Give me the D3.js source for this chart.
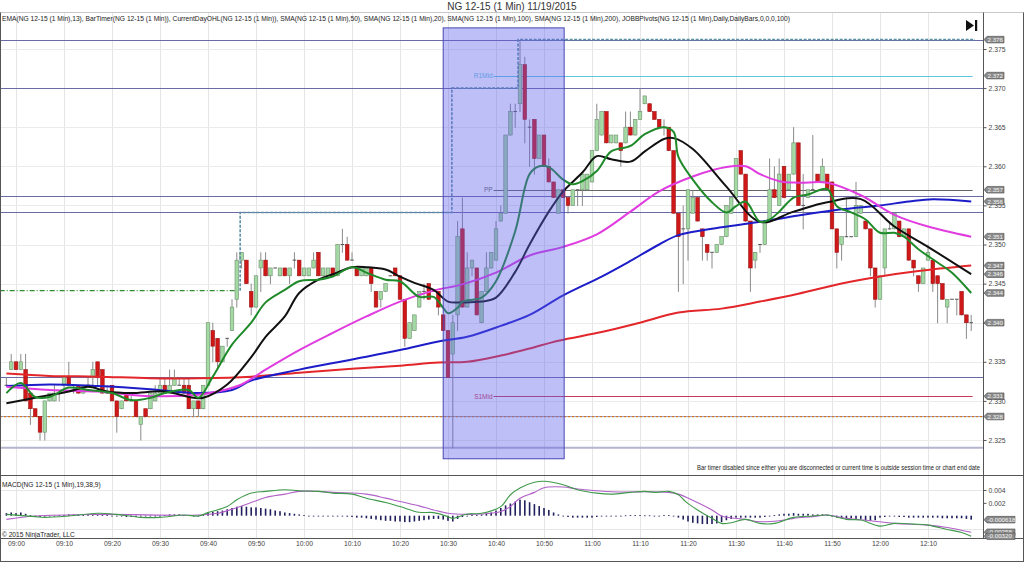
<!DOCTYPE html>
<html><head><meta charset="utf-8">
<script src="https://cdn.jsdelivr.net/npm/d3@7"></script>
<style>
html,body{margin:0;padding:0;background:#fff;}
svg{display:block;font-family:"Liberation Sans",Arial,sans-serif;}
</style></head><body>
<svg id="c" width="1024" height="563"></svg>
<script>
// ---------------- DATA ----------------
const chartTitle = "NG 12-15 (1 Min)  11/19/2015";
const indicatorLine = "EMA(NG 12-15 (1 Min),13), BarTimer(NG 12-15 (1 Min)), CurrentDayOHL(NG 12-15 (1 Min)), SMA(NG 12-15 (1 Min),50), SMA(NG 12-15 (1 Min),20), SMA(NG 12-15 (1 Min),100), SMA(NG 12-15 (1 Min),200), JOBBPivots(NG 12-15 (1 Min),Daily,DailyBars,0,0,0,100)";
const macdTitle = "MACD(NG 12-15 (1 Min),19,38,9)";
const timerNote = "Bar timer disabled since either you are disconnected or current time is outside session time or chart end date";
const copyright = "\u00A9 2015 NinjaTrader, LLC";

// first bar is 08:58 (bar index relative to 09:00)
const firstBar = -2;
const opens = [
2.332,2.334,2.335,2.334,2.334,2.331,2.329,2.328,2.326,2.330,
2.330,2.331,2.332,2.333,2.332,2.332,2.331,2.332,2.333,2.335,
2.334,2.331,2.332,2.330,2.329,2.331,2.330,2.330,2.327,2.329,
2.329,2.330,2.331,2.332,2.331,2.332,2.332,2.332,2.332,2.329,
2.330,2.329,2.332,2.339,2.338,2.335,2.338,2.339,2.343,2.348,
2.348,2.344,2.342,2.347,2.348,2.346,2.347,2.346,2.347,2.346,
2.348,2.348,2.346,2.346,2.347,2.349,2.346,2.346,2.347,2.346,
2.350,2.350,2.348,2.347,2.346,2.346,2.347,2.344,2.343,2.344,
2.346,2.347,2.346,2.343,2.338,2.339,2.342,2.344,2.345,2.344,
2.344,2.341,2.339,2.336,2.341,2.352,2.342,2.347,2.347,2.340,
2.344,2.347,2.348,2.353,2.354,2.364,2.367,2.368,2.373,2.365,
2.366,2.361,2.364,2.360,2.358,2.354,2.357,2.356,2.355,2.357,
2.357,2.357,2.358,2.362,2.364,2.367,2.363,2.363,2.363,2.363,
2.365,2.364,2.366,2.368,2.368,2.367,2.366,2.365,2.365,2.362,
2.354,2.352,2.352,2.354,2.356,2.352,2.350,2.349,2.349,2.350,
2.351,2.354,2.356,2.362,2.359,2.353,2.348,2.350,2.350,2.353,
2.357,2.355,2.360,2.357,2.359,2.363,2.355,2.356,2.357,2.359,
2.358,2.359,2.358,2.352,2.350,2.351,2.351,2.351,2.354,2.353,
2.352,2.347,2.343,2.347,2.352,2.352,2.353,2.351,2.352,2.348,
2.346,2.345,2.348,2.348,2.346,2.345,2.342,2.343,2.343,2.344,
2.341,2.340];
const highs = [
2.333,2.336,2.335,2.336,2.336,2.331,2.329,2.328,2.330,2.331,
2.332,2.331,2.333,2.335,2.332,2.332,2.332,2.333,2.335,2.335,
2.334,2.332,2.332,2.330,2.330,2.331,2.331,2.330,2.328,2.329,
2.331,2.332,2.333,2.333,2.334,2.334,2.333,2.333,2.333,2.330,
2.330,2.332,2.340,2.340,2.338,2.337,2.338,2.343,2.349,2.349,
2.348,2.345,2.346,2.349,2.349,2.347,2.347,2.347,2.347,2.347,
2.349,2.348,2.347,2.347,2.349,2.349,2.347,2.347,2.347,2.350,
2.352,2.351,2.349,2.347,2.347,2.347,2.347,2.344,2.344,2.345,
2.346,2.347,2.346,2.343,2.340,2.341,2.344,2.345,2.345,2.344,
2.344,2.341,2.339,2.341,2.353,2.356,2.349,2.348,2.347,2.344,
2.349,2.349,2.353,2.355,2.364,2.368,2.368,2.376,2.374,2.366,
2.366,2.364,2.364,2.361,2.358,2.357,2.357,2.356,2.357,2.357,
2.359,2.359,2.362,2.368,2.367,2.367,2.364,2.364,2.363,2.367,
2.367,2.366,2.370,2.369,2.368,2.367,2.366,2.366,2.365,2.362,
2.354,2.355,2.357,2.357,2.356,2.352,2.350,2.349,2.350,2.351,
2.355,2.356,2.361,2.362,2.359,2.353,2.349,2.350,2.353,2.361,
2.360,2.361,2.360,2.359,2.365,2.363,2.359,2.357,2.364,2.359,
2.361,2.359,2.358,2.352,2.351,2.356,2.351,2.358,2.355,2.353,
2.352,2.347,2.346,2.352,2.353,2.354,2.353,2.352,2.352,2.348,
2.346,2.347,2.350,2.348,2.346,2.345,2.343,2.343,2.343,2.344,
2.341,2.341];
const lows = [
2.332,2.334,2.334,2.334,2.330,2.327,2.328,2.325,2.325,2.330,
2.330,2.330,2.331,2.332,2.331,2.331,2.331,2.332,2.332,2.332,
2.331,2.331,2.330,2.326,2.329,2.330,2.330,2.328,2.325,2.328,
2.329,2.330,2.331,2.331,2.331,2.332,2.332,2.331,2.329,2.328,
2.328,2.329,2.332,2.335,2.334,2.335,2.337,2.339,2.342,2.347,
2.345,2.341,2.342,2.344,2.346,2.345,2.347,2.346,2.346,2.345,
2.347,2.346,2.346,2.346,2.347,2.346,2.346,2.346,2.346,2.346,
2.349,2.348,2.348,2.346,2.346,2.346,2.344,2.342,2.342,2.344,
2.346,2.346,2.343,2.337,2.338,2.339,2.342,2.343,2.343,2.344,
2.341,2.339,2.333,2.324,2.339,2.342,2.342,2.346,2.341,2.340,
2.344,2.347,2.348,2.353,2.354,2.364,2.365,2.367,2.363,2.360,
2.359,2.361,2.360,2.358,2.356,2.354,2.356,2.354,2.355,2.355,
2.355,2.357,2.358,2.362,2.364,2.363,2.363,2.363,2.360,2.363,
2.364,2.364,2.366,2.368,2.367,2.366,2.365,2.364,2.362,2.354,
2.344,2.345,2.348,2.354,2.353,2.348,2.348,2.347,2.349,2.350,
2.351,2.354,2.356,2.359,2.353,2.344,2.347,2.349,2.350,2.353,
2.356,2.355,2.356,2.357,2.359,2.355,2.352,2.356,2.357,2.358,
2.358,2.357,2.352,2.347,2.348,2.351,2.351,2.351,2.354,2.352,
2.346,2.342,2.343,2.346,2.352,2.352,2.351,2.351,2.348,2.346,
2.344,2.345,2.348,2.344,2.340,2.343,2.340,2.343,2.341,2.341,
2.338,2.339];
const closes = [
2.332,2.335,2.334,2.335,2.330,2.329,2.328,2.326,2.330,2.331,
2.331,2.331,2.333,2.332,2.332,2.331,2.332,2.332,2.334,2.333,
2.331,2.331,2.330,2.328,2.330,2.330,2.330,2.328,2.328,2.328,
2.331,2.331,2.332,2.331,2.332,2.333,2.332,2.331,2.329,2.330,
2.329,2.332,2.340,2.337,2.335,2.337,2.338,2.342,2.348,2.349,
2.345,2.342,2.346,2.348,2.346,2.347,2.347,2.347,2.346,2.347,
2.348,2.346,2.347,2.347,2.348,2.346,2.347,2.347,2.346,2.350,
2.350,2.348,2.348,2.346,2.347,2.347,2.345,2.342,2.344,2.345,
2.346,2.346,2.343,2.338,2.340,2.341,2.344,2.344,2.343,2.344,
2.342,2.339,2.333,2.340,2.351,2.342,2.347,2.348,2.341,2.344,
2.347,2.349,2.352,2.354,2.364,2.367,2.367,2.373,2.366,2.365,
2.361,2.364,2.360,2.358,2.356,2.357,2.356,2.355,2.357,2.357,
2.359,2.359,2.362,2.366,2.367,2.363,2.364,2.364,2.362,2.365,
2.364,2.366,2.367,2.369,2.367,2.366,2.365,2.365,2.362,2.354,
2.351,2.352,2.357,2.356,2.353,2.351,2.349,2.349,2.350,2.351,
2.355,2.356,2.361,2.359,2.353,2.347,2.349,2.350,2.353,2.357,
2.356,2.359,2.356,2.359,2.363,2.355,2.355,2.357,2.357,2.358,
2.360,2.357,2.352,2.349,2.351,2.351,2.351,2.355,2.355,2.352,
2.347,2.343,2.346,2.352,2.352,2.354,2.351,2.352,2.348,2.347,
2.345,2.347,2.349,2.345,2.345,2.343,2.343,2.343,2.343,2.341,
2.340,2.340];

// moving averages: [bar index, price]
const ema13 = [[-2,2.3310],[1,2.3323],[4,2.3305],[7,2.3305],[11,2.3317],[15,2.3314],[20,2.3310],[24,2.3301],[28,2.3304],[31,2.3310],[36,2.3314],[38,2.3304],[41,2.3331],[45,2.3372],[49,2.3400],[52,2.3426],[56,2.3442],[59,2.3453],[63,2.3455],[66,2.3459],[70,2.3471],[73,2.3464],[77,2.3455],[80,2.3453],[84,2.3433],[87,2.3433],[89,2.3419],[90,2.3412],[92,2.3419],[93,2.3427],[97,2.3432],[100,2.3453],[104,2.3517],[107,2.3590],[109,2.3600],[111,2.3599],[114,2.3583],[116,2.3577],[118,2.3581],[121,2.3594],[124,2.3619],[128,2.3626],[131,2.3641],[135,2.3650],[137,2.3644],[138,2.3612],[141,2.3583],[145,2.3554],[148,2.3541],[150,2.3549],[152,2.3555],[155,2.3529],[157,2.3532],[159,2.3542],[162,2.3560],[165,2.3564],[169,2.3571],[171,2.3549],[174,2.3541],[177,2.3532],[180,2.3515],[183,2.3515],[185,2.3510],[188,2.3494],[192,2.3477],[195,2.3464],[199,2.3438]];
const sma20 = [[-2,2.3297],[4,2.3304],[11,2.3312],[15,2.3318],[19,2.3312],[24,2.3310],[31,2.3312],[37,2.3304],[39,2.3304],[44,2.3321],[49,2.3356],[52,2.3382],[56,2.3408],[59,2.3438],[63,2.3455],[66,2.3462],[70,2.3471],[73,2.3471],[77,2.3468],[80,2.3459],[83,2.3451],[87,2.3442],[90,2.3427],[93,2.3426],[97,2.3427],[100,2.3432],[104,2.3465],[107,2.3500],[111,2.3542],[114,2.3568],[118,2.3592],[121,2.3613],[124,2.3609],[128,2.3606],[131,2.3619],[135,2.3635],[137,2.3636],[141,2.3622],[148,2.3574],[155,2.3529],[162,2.3542],[169,2.3554],[176,2.3558],[183,2.3523],[190,2.3497],[199,2.3462]];
const sma50 = [[-2,2.3318],[7,2.3314],[17,2.3312],[28,2.3306],[38,2.3308],[42,2.3312],[47,2.3321],[52,2.3340],[59,2.3365],[66,2.3387],[73,2.3408],[80,2.3427],[87,2.3441],[93,2.3449],[100,2.3464],[107,2.3486],[114,2.3497],[121,2.3513],[128,2.3542],[134,2.3568],[141,2.3587],[148,2.3599],[152,2.3600],[155,2.3590],[159,2.3581],[163,2.3579],[169,2.3579],[176,2.3563],[183,2.3538],[190,2.3523],[199,2.3510]];
const sma100 = [[-2,2.3319],[7,2.3321],[17,2.3319],[28,2.3315],[38,2.3310],[45,2.3314],[49,2.3326],[59,2.3340],[70,2.3353],[80,2.3365],[88,2.3376],[94,2.3382],[101,2.3396],[107,2.3410],[114,2.3435],[122,2.3459],[128,2.3479],[134,2.3500],[138,2.3512],[147,2.3522],[155,2.3529],[163,2.3537],[172,2.3545],[180,2.3550],[186,2.3555],[191,2.3558],[199,2.3555]];
const sma200 = [[-2,2.3335],[7,2.3332],[17,2.3331],[28,2.3329],[38,2.3329],[49,2.3331],[59,2.3336],[70,2.3341],[80,2.3345],[88,2.3349],[94,2.3350],[101,2.3358],[107,2.3367],[113,2.3377],[122,2.3388],[130,2.3400],[138,2.3413],[147,2.3418],[155,2.3427],[163,2.3437],[172,2.3450],[180,2.3459],[188,2.3466],[199,2.3473]];

// price levels
const slateLevels = [2.3762, 2.3700, 2.3562, 2.3541, 2.3331];
const dottedLevel = 2.3280;
const lowLevel = 2.3240;
const openLevel = 2.3441;
const openLevelBars = [-3.4, 46.4];
const dayHighSteps = [[46.7,2.3441],[46.7,2.3541],[90.8,2.3541],[90.8,2.3700],[104.6,2.3700],[104.6,2.3762],[199.8,2.3762]];
const pivotNames = ["R1Mid", "PP", "S1Mid"];
const pivotValues = [2.3716, 2.3570, 2.3306];
const pivotStartBar = 99.5;
const highlightBars = [89.0, 114.2];
const highlightPrices = [2.3777, 2.3226];

// axis ticks
const timeLabels = ["09:00","09:10","09:20","09:30","09:40","09:50","10:00","10:10","10:20","10:30","10:40","10:50","11:00","11:10","11:20","11:30","11:40","11:50","12:00","12:10"];
const priceTicks = [2.325,2.330,2.335,2.340,2.345,2.350,2.355,2.360,2.365,2.370,2.375];
const macdTicks = [0.004, 0.002];

// MACD (values in thousandths)
const macdLine = [[-2,0.2],[4,-0.15],[6,-0.26],[11,-0.05],[17,0.37],[21,0.2],[26,-0.26],[30,-0.26],[35,0.1],[38,-0.05],[40,0.48],[44,1.42],[46,2.47],[49,3.52],[52,3.78],[56,4.05],[59,3.89],[63,3.78],[66,3.52],[70,3.36],[73,2.73],[77,2.05],[80,1.42],[84,0.53],[87,0.48],[90,-0.15],[91,-0.41],[94,0.27],[97,0.37],[101,1.42],[103,3.26],[105,4.31],[108,5.2],[110,5.36],[114,4.83],[117,4.05],[121,3.52],[124,3.36],[128,3.63],[131,3.78],[133,3.63],[136,3.78],[138,3.26],[139.5,2.2],[142,0.9],[145,-0.41],[147,-1.2],[149,-1.1],[152,-0.57],[155,-1.2],[158,-1.2],[162,-0.26],[166,-0.05],[169,0.1],[173,-0.57],[176,-0.68],[180,-1.62],[183,-1.2],[187,-1.31],[190,-1.46],[194,-2.15],[197,-2.6],[199,-3.2]];
const macdAvg = [[-2,-0.57],[4,-0.05],[17,0.2],[38,0.1],[42,0.37],[45,1.0],[49,2.05],[52,2.84],[56,3.36],[59,3.78],[63,3.78],[66,3.63],[73,3.36],[77,2.73],[80,2.21],[84,1.53],[87,0.9],[90,0.37],[94,0.2],[97,0.27],[101,0.64],[103,1.42],[105,2.73],[108,3.63],[110,4.36],[114,4.47],[117,4.15],[121,3.89],[124,3.73],[128,3.68],[131,3.73],[136,3.63],[138,3.36],[141.5,2.21],[145,0.9],[147,-0.05],[152,-0.57],[155,-0.94],[159,-0.78],[162,-0.41],[166,-0.15],[169,0.1],[173,-0.41],[178,-0.78],[183,-1.2],[190,-1.46],[194,-1.83],[199,-2.58]];
const macdDiff = [
0.4,0.5,0.4,0.5,0.3,0.1,-0.2,-0.2,-0.1,-0.1,
0,0.1,0.1,0.2,0.2,0.1,0.1,0.2,0.2,0.2,
0.1,0.1,0,-0.1,-0.1,-0.2,-0.2,-0.2,-0.1,-0.1,
-0.1,0,0,0.1,0.2,0.2,0.2,0.1,0.1,-0.1,
-0.1,0.1,0.5,0.6,0.7,0.8,1.0,1.2,1.4,1.5,
1.4,1.3,1.3,1.2,1.1,1.0,0.8,0.7,0.5,0.4,
0.3,0.2,0.1,0,0,-0.05,-0.1,-0.1,-0.1,-0.1,
-0.1,-0.15,-0.2,-0.3,-0.3,-0.4,-0.5,-0.6,-0.7,-0.8,
-0.8,-0.9,-0.9,-1.0,-1.0,-0.9,-0.8,-0.7,-0.6,-0.5,
-0.5,-0.6,-0.8,-0.9,-0.5,-0.2,0,0.1,0.1,0.2,
0.3,0.5,0.8,1.2,1.6,1.9,2.2,2.5,2.4,2.1,
1.8,1.5,1.2,0.9,0.5,0.2,-0.1,-0.2,-0.3,-0.3,
-0.3,-0.3,-0.3,-0.2,-0.1,-0.1,0,0,0,0.05,
0.1,0.1,0.1,0.05,0.05,0,0,0.1,0.1,0,
-0.3,-0.6,-0.9,-1.1,-1.2,-1.3,-1.3,-1.3,-1.2,-1.0,
-0.7,-0.5,-0.3,-0.3,-0.3,-0.3,-0.3,-0.3,-0.2,-0.1,
0.1,0.2,0.3,0.3,0.4,0.3,0.3,0.3,0.2,0.2,
0.2,0.1,-0.1,-0.3,-0.4,-0.4,-0.4,-0.5,-0.5,-0.7,
-0.8,-0.7,-0.3,-0.2,-0.1,-0.1,-0.2,-0.2,-0.3,-0.3,
-0.3,-0.3,-0.3,-0.3,-0.3,-0.4,-0.4,-0.4,-0.4,-0.4,
-0.5,-0.618];

// ---------------- DRAWING ----------------
const svg = d3.select("#c");
const W = 1024, H = 563;
const axisX = 983;
const mainTop = 12.5, mainBot = 475.5, macdTop = 475.5, macdBot = 538.5;

const x = d3.scaleLinear().domain([0, 190]).range([16, 928]);
const y = d3.scaleLinear().domain([2.325, 2.375]).range([440, 49]);
const ym = d3.scaleLinear().domain([0, 4]).range([515.7, 490]);

const bars = opens.map((o, k) => ({ i: firstBar + k, o, h: highs[k], l: lows[k], c: closes[k] }));

svg.append("rect").attr("width", W).attr("height", H).attr("fill", "#fff");

const defs = svg.append("defs");
defs.append("clipPath").attr("id", "clipMain").append("rect")
  .attr("x", 1).attr("y", mainTop).attr("width", axisX - 1).attr("height", mainBot - mainTop);
defs.append("clipPath").attr("id", "clipMacd").append("rect")
  .attr("x", 1).attr("y", macdTop).attr("width", axisX - 1).attr("height", macdBot - macdTop);

svg.append("text").attr("x", 512).attr("y", 10).attr("text-anchor", "middle")
  .attr("font-size", 10).attr("fill", "#333").text(chartTitle);

// ---------- main panel ----------
const main = svg.append("g").attr("clip-path", "url(#clipMain)");

const gridTicks = d3.range(0, 191, 10);
main.selectAll(".vg").data(gridTicks).join("line")
  .attr("x1", d => x(d) + 0.5).attr("x2", d => x(d) + 0.5)
  .attr("y1", mainTop).attr("y2", mainBot).attr("stroke", "#e6e6e6");
main.selectAll(".hg").data(priceTicks).join("line")
  .attr("x1", 0).attr("x2", axisX).attr("y1", d => Math.round(y(d)) + 0.5).attr("y2", d => Math.round(y(d)) + 0.5)
  .attr("stroke", "#ebebeb");

main.selectAll(".lvl").data(slateLevels).join("line")
  .attr("x1", 0).attr("x2", axisX).attr("y1", d => Math.round(y(d)) + 0.5).attr("y2", d => Math.round(y(d)) + 0.5)
  .attr("stroke", "#6a6aa6").attr("stroke-width", 1);
main.append("line").attr("x1", 0).attr("x2", axisX)
  .attr("y1", y(lowLevel)).attr("y2", y(lowLevel))
  .attr("stroke", "#b4b4d0").attr("stroke-width", 2);
main.append("line").attr("x1", 0).attr("x2", axisX)
  .attr("y1", y(dottedLevel)).attr("y2", y(dottedLevel))
  .attr("stroke", "#9a9ab0").attr("stroke-width", 1);
main.append("line").attr("x1", 0).attr("x2", axisX)
  .attr("y1", y(dottedLevel)).attr("y2", y(dottedLevel))
  .attr("stroke", "#d07a30").attr("stroke-width", 1.2).attr("stroke-dasharray", "2,2");
main.append("line").attr("x1", x(openLevelBars[0])).attr("x2", x(openLevelBars[1]))
  .attr("y1", y(openLevel)).attr("y2", y(openLevel))
  .attr("stroke", "#2f8f2f").attr("stroke-width", 1.2).attr("stroke-dasharray", "5,2,1,2");

const pivotColors = ["#5cc8e0", "#666666", "#c8385a"];
pivotValues.forEach((v, k) => {
  main.append("line").attr("x1", x(pivotStartBar)).attr("x2", x(199.3))
    .attr("y1", Math.round(y(v)) + 0.5).attr("y2", Math.round(y(v)) + 0.5)
    .attr("stroke", pivotColors[k]).attr("stroke-width", 1);
  main.append("text").attr("x", x(pivotStartBar) - 1).attr("y", y(v) + 2.3)
    .attr("text-anchor", "end").attr("font-size", 6.5).attr("fill", pivotColors[k]).text(pivotNames[k]);
});

// candles
const bw = 3.6;
const cg = main.append("g");
cg.selectAll(".wick").data(bars).join("line")
  .attr("x1", d => x(d.i)).attr("x2", d => x(d.i))
  .attr("y1", d => y(d.h)).attr("y2", d => y(d.l) + 0.5)
  .attr("stroke", "#8a8a8a").attr("stroke-width", 1);
cg.selectAll(".body").data(bars.filter(d => d.o !== d.c)).join("rect")
  .attr("x", d => x(d.i) - bw / 2).attr("width", bw)
  .attr("y", d => y(Math.max(d.o, d.c)))
  .attr("height", d => Math.max(1, Math.abs(y(d.o) - y(d.c))))
  .attr("fill", d => d.c > d.o ? "#a3d9a3" : "#d01818")
  .attr("stroke", d => d.c > d.o ? "#6f8f6f" : "#9a1414").attr("stroke-width", 0.6);
cg.selectAll(".doji").data(bars.filter(d => d.o === d.c)).join("line")
  .attr("x1", d => x(d.i) - bw / 2).attr("x2", d => x(d.i) + bw / 2)
  .attr("y1", d => y(d.o)).attr("y2", d => y(d.o))
  .attr("stroke", "#555").attr("stroke-width", 1);

// moving averages
const maLine = d3.line().x(d => x(d[0])).y(d => y(d[1])).curve(d3.curveCatmullRom.alpha(0.5));
const maSeries = [
  { data: sma200, color: "#e3262a" },
  { data: sma100, color: "#1c1cc8" },
  { data: sma50, color: "#e03ce0" },
  { data: sma20, color: "#111111" },
  { data: ema13, color: "#1f8a2a" }
];
maSeries.forEach(s => {
  main.append("path").attr("d", maLine(s.data)).attr("fill", "none")
    .attr("stroke", s.color).attr("stroke-width", 2).attr("stroke-linejoin", "round");
});

const stepLine = d3.line().x(d => x(d[0])).y(d => y(d[1]));
main.append("path").attr("d", stepLine(dayHighSteps)).attr("fill", "none")
  .attr("stroke", "#5b8fa3").attr("stroke-width", 1.6).attr("stroke-dasharray", "3,1.5");

main.append("rect")
  .attr("x", x(highlightBars[0])).attr("width", x(highlightBars[1]) - x(highlightBars[0]))
  .attr("y", y(highlightPrices[0])).attr("height", y(highlightPrices[1]) - y(highlightPrices[0]))
  .attr("fill", "rgba(96,96,236,0.40)").attr("stroke", "#4646b4").attr("stroke-width", 1);

svg.append("text").attr("x", 2).attr("y", 21).attr("font-size", 6.6).attr("fill", "#222")
  .attr("textLength", 788).attr("lengthAdjust", "spacingAndGlyphs").text(indicatorLine);

svg.append("path").attr("d", "M966,20 L966,31 L974,25.5 Z").attr("fill", "#111");
svg.append("rect").attr("x", 975).attr("y", 20).attr("width", 2.2).attr("height", 11).attr("fill", "#111");

svg.append("text").attr("x", 980).attr("y", 469.5).attr("text-anchor", "end").attr("font-size", 6.4)
  .attr("fill", "#222").attr("textLength", 283).attr("lengthAdjust", "spacingAndGlyphs").text(timerNote);

// ---------- MACD panel ----------
const mg = svg.append("g").attr("clip-path", "url(#clipMacd)");
mg.selectAll(".vg").data(gridTicks).join("line")
  .attr("x1", d => x(d) + 0.5).attr("x2", d => x(d) + 0.5)
  .attr("y1", macdTop).attr("y2", macdBot).attr("stroke", "#e6e6e6");
mg.selectAll(".hg").data([4, -2]).join("line")
  .attr("x1", 0).attr("x2", axisX).attr("y1", d => Math.round(ym(d)) + 0.5).attr("y2", d => Math.round(ym(d)) + 0.5)
  .attr("stroke", "#e6e6e6");
mg.selectAll(".hist").data(macdDiff.map((v, k) => ({ i: firstBar + k, v }))).join("rect")
  .attr("x", d => x(d.i) - 0.8).attr("width", 1.6)
  .attr("y", d => Math.min(ym(0), ym(d.v))).attr("height", d => Math.max(0.8, Math.abs(ym(d.v) - ym(0))))
  .attr("fill", "#20205e");
const mLine = d3.line().x(d => x(d[0])).y(d => ym(d[1])).curve(d3.curveCatmullRom.alpha(0.5));
mg.append("path").attr("d", mLine(macdAvg)).attr("fill", "none").attr("stroke", "#b060c8").attr("stroke-width", 1.1);
mg.append("path").attr("d", mLine(macdLine)).attr("fill", "none").attr("stroke", "#3f9a4a").attr("stroke-width", 1.1);

svg.append("text").attr("x", 2).attr("y", 487).attr("font-size", 6.6).attr("fill", "#222").text(macdTitle);
svg.append("text").attr("x", 2).attr("y", 537).attr("font-size", 6.6).attr("fill", "#222").text(copyright);

// ---------- frame ----------
const frame = svg.append("g").attr("stroke", "#555").attr("stroke-width", 1);
frame.append("line").attr("x1", 0).attr("x2", W).attr("y1", mainTop).attr("y2", mainTop).attr("stroke", "#c8c8c8");
frame.append("line").attr("x1", 0).attr("x2", W).attr("y1", mainBot).attr("y2", mainBot);
frame.append("line").attr("x1", 0).attr("x2", W).attr("y1", macdBot).attr("y2", macdBot);
frame.append("line").attr("x1", 0).attr("x2", W).attr("y1", H - 1.5).attr("y2", H - 1.5);
frame.append("line").attr("x1", 0.5).attr("x2", 0.5).attr("y1", mainTop).attr("y2", H - 1.5);
frame.append("line").attr("x1", W - 0.5).attr("x2", W - 0.5).attr("y1", mainTop).attr("y2", H - 1.5);
frame.append("line").attr("x1", axisX + 0.5).attr("x2", axisX + 0.5).attr("y1", mainTop).attr("y2", macdBot);

// value tags (prices)
const fmt3 = d3.format(".3f");
const lastBar = bars[bars.length - 1];
const priceTags = [
  dayHighSteps[dayHighSteps.length - 1][1], pivotValues[0], pivotValues[1],
  sma100[sma100.length - 1][1], sma50[sma50.length - 1][1], sma200[sma200.length - 1][1],
  sma20[sma20.length - 1][1], ema13[ema13.length - 1][1], lastBar.c, pivotValues[2], dottedLevel
];

// price axis (a label fully covered by a value tag is hidden, as in the original)
const pAxis = svg.append("g").attr("transform", `translate(${axisX + 0.5},0)`)
  .call(d3.axisRight(y).tickValues(priceTicks).tickFormat(d3.format(".3f")).tickSize(3).tickPadding(2));
pAxis.select(".domain").remove();
pAxis.selectAll("line").attr("stroke", "#555");
pAxis.selectAll("text").attr("font-size", 6.8).attr("fill", "#444").attr("font-family", "Liberation Sans, Arial, sans-serif");
pAxis.selectAll(".tick").filter(d => priceTags.some(v => Math.abs(y(v) - y(d)) < 1.5)).select("text").remove();

const mAxis = svg.append("g").attr("transform", `translate(${axisX + 0.5},0)`)
  .call(d3.axisRight(d3.scaleLinear().domain([0, 0.004]).range([515.7, 490])).tickValues(macdTicks)
    .tickFormat(d3.format(".3f")).tickSize(3).tickPadding(2));
mAxis.select(".domain").remove();
mAxis.selectAll("line").attr("stroke", "#555");
mAxis.selectAll("text").attr("font-size", 6.8).attr("fill", "#444").attr("font-family", "Liberation Sans, Arial, sans-serif");

const tAxis = svg.append("g").attr("transform", `translate(0,${macdBot})`)
  .call(d3.axisBottom(x).tickValues(gridTicks).tickFormat((d, k) => timeLabels[k]).tickSize(0).tickPadding(3));
tAxis.select(".domain").remove();
tAxis.selectAll("text").attr("font-size", 6.8).attr("fill", "#444").attr("font-family", "Liberation Sans, Arial, sans-serif");

function tag(yPos, label, w) {
  const g = svg.append("g");
  const x0 = axisX + 1, hh = 3.3;
  g.append("path").attr("d", `M${x0},${yPos} L${x0 + 3},${yPos - hh} L${x0 + w},${yPos - hh} L${x0 + w},${yPos + hh} L${x0 + 3},${yPos + hh} Z`)
    .attr("fill", "#8a8a8a").attr("stroke", "#4a4a4a").attr("stroke-width", 0.6);
  g.append("text").attr("x", x0 + 3.5).attr("y", yPos + 2.2).attr("font-size", 6.2).attr("fill", "#f4f4f4").text(label);
}
priceTags.forEach(v => tag(y(v), fmt3(v), 20));
const mTags = [macdDiff[macdDiff.length - 1], macdAvg[macdAvg.length - 1][1], macdLine[macdLine.length - 1][1]];
mTags.forEach(v => tag(ym(v), (v / 1000).toPrecision(3), 31));
</script>
</body></html>
